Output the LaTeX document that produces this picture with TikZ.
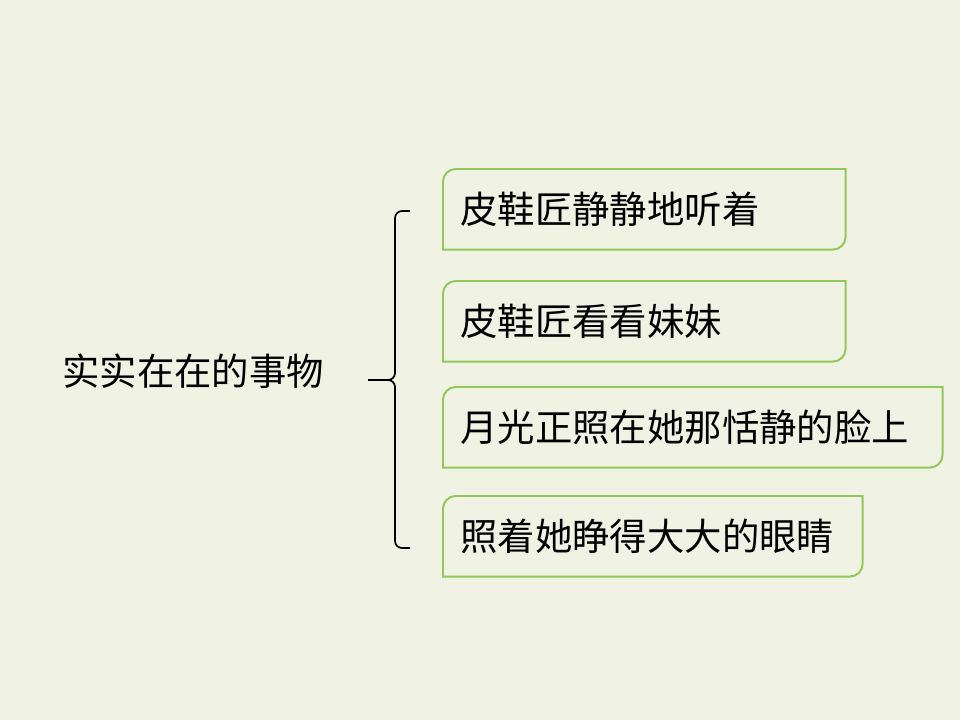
\documentclass[tikz,border=0pt]{standalone}
\usepackage{fontspec}
\newfontfamily\cjk{Noto Sans CJK SC}
\usetikzlibrary{positioning}
\definecolor{bgpaper}{RGB}{240,243,228}
\definecolor{boxgreen}{RGB}{146,200,90}
\tikzset{
  itembox/.style={inner xsep=0.425cm, inner ysep=0pt, minimum height=2cm, align=left, anchor=north west, font=\cjk\fontsize{26.6}{30}\selectfont},
  boxline/.style={draw=boxgreen, line width=1.4pt},
}
\newcommand{\cornerbox}[1]{%
  \draw[boxline] (#1.west) [rounded corners=9pt] -- (#1.north west) -- (#1.north)
    [sharp corners] -- (#1.north east) -- (#1.east)
    [rounded corners=9pt] -- (#1.south east) -- (#1.south)
    [sharp corners] -- (#1.south west) -- cycle;}
\begin{document}
\begin{tikzpicture}
    % Background
    \fill[bgpaper] (0,0) rectangle (24,18);
    \useasboundingbox (0,0) rectangle (24,18);

    % Main label
    \node (thing) at (1.55,8.72) [anchor=west, inner sep=0pt, font=\cjk\fontsize{26.6}{30}\selectfont] {实实在在的事物};

    % Item boxes
    \node (shoe) at (11.075,13.775) [itembox, text width=9.2cm] {皮鞋匠静静地听着};
    \node (look) at (11.075,10.975) [itembox, text width=9.2cm] {皮鞋匠看看妹妹};
    \node (moon) at (11.075,8.325) [itembox, text width=11.625cm] {月光正照在她那恬静的脸上};
    \node (eyes) at (11.075,5.6) [itembox, text width=9.625cm] {照着她睁得大大的眼睛};
    \cornerbox{shoe}
    \cornerbox{look}
    \cornerbox{moon}
    \cornerbox{eyes}

    % Brace
    \coordinate (tip) at (9.2,8.5);
    \coordinate (top) at (10.25,12.725);
    \coordinate (bot) at (10.25,4.3);
    \draw[line width=1.2pt, rounded corners=5pt] (tip) -- (9.875,8.5) -- (9.875,12.725) -- (top);
    \draw[line width=1.2pt, rounded corners=5pt] (tip) -- (9.875,8.5) -- (9.875,4.3) -- (bot);
\end{tikzpicture}
\end{document}
